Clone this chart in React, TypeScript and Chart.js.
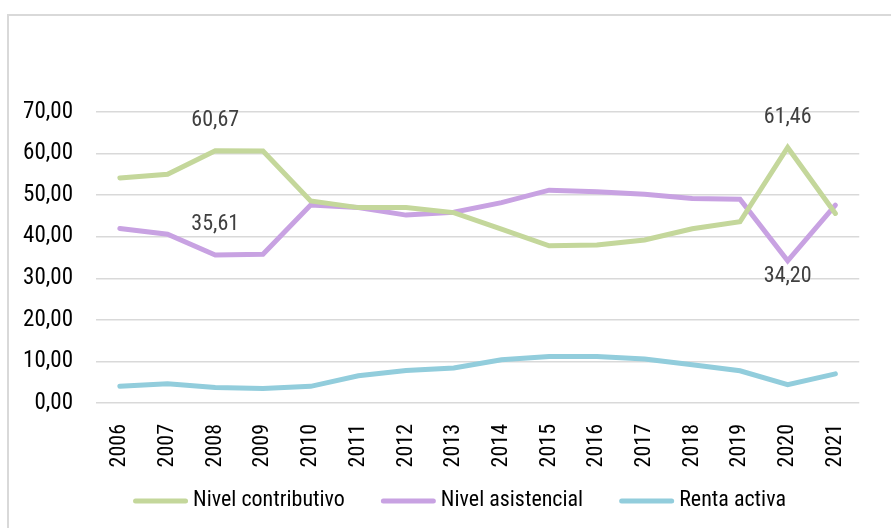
import React, { useEffect, useRef } from "react";
import { Chart, registerables } from "chart.js";

Chart.register(...registerables);

// Years on the horizontal axis
const years = [
  "2006", "2007", "2008", "2009", "2010", "2011", "2012", "2013",
  "2014", "2015", "2016", "2017", "2018", "2019", "2020", "2021",
];

// Series values (percent)
const nivelContributivo = [
  54.15, 55.0, 60.67, 60.6, 48.6, 47.0, 47.0, 45.8,
  41.8, 37.8, 38.0, 39.2, 41.9, 43.6, 61.46, 45.6,
];
const nivelAsistencial = [
  42.0, 40.6, 35.61, 35.8, 47.6, 47.0, 45.2, 45.9,
  48.2, 51.2, 50.8, 50.2, 49.2, 49.0, 34.2, 47.6,
];
const rentaActiva = [
  4.0, 4.6, 3.75, 3.5, 4.0, 6.55, 7.8, 8.4,
  10.4, 11.2, 11.2, 10.6, 9.2, 7.75, 4.4, 7.0,
];

// Points carrying a value label, and where the label sits
const contributivoLabels = [
  { index: 2, place: "above" },
  { index: 14, place: "above" },
];
const asistencialLabels = [
  { index: 2, place: "above" },
  { index: 14, place: "below" },
];

const FONT = "'Liberation Sans Narrow', 'Arial Narrow', 'Roboto Condensed', sans-serif";
const fmt = (v: number) => v.toFixed(2).replace(".", ",");

const valueLabelPlugin = {
  id: "valueLabels",
  afterDatasetsDraw(chart: any) {
    const ctx = chart.ctx;
    ctx.save();
    ctx.font = `22px ${FONT}`;
    ctx.fillStyle = "#404040";
    ctx.textAlign = "center";
    ctx.textBaseline = "middle";
    chart.data.datasets.forEach((ds: any, di: number) => {
      const marks = ds.valueLabels || [];
      const meta = chart.getDatasetMeta(di);
      marks.forEach((m: any) => {
        const el = meta.data[m.index];
        if (!el) return;
        const text = fmt(ds.data[m.index] as number);
        const y = m.place === "above" ? el.y - 30 : el.y + 16;
        ctx.fillText(text, el.x, y);
      });
    });
    ctx.restore();
  },
};

const lineLegendPlugin = {
  id: "lineLegend",
  afterDraw(chart: any) {
    const ctx = chart.ctx;
    ctx.save();
    ctx.font = `22px ${FONT}`;
    ctx.textBaseline = "middle";
    ctx.textAlign = "left";
    const lineW = 55;
    const gap = 5;
    const itemGap = 36;
    const items = chart.data.datasets.map((ds: any) => ({
      label: ds.label as string,
      color: ds.borderColor as string,
      w: lineW + gap + ctx.measureText(ds.label).width,
    }));
    const total = items.reduce((s: number, it: any) => s + it.w, 0) + itemGap * (items.length - 1);
    let x = 451.5 - total / 2;
    const y = 492;
    items.forEach((it: any) => {
      ctx.strokeStyle = it.color;
      ctx.lineWidth = 5;
      ctx.lineCap = "round";
      ctx.beginPath();
      ctx.moveTo(x + 2.5, y + 1);
      ctx.lineTo(x + lineW - 2.5, y + 1);
      ctx.stroke();
      ctx.fillStyle = "#000000";
      ctx.fillText(it.label, x + lineW + gap, y);
      x += it.w + itemGap;
    });
    ctx.restore();
  },
};

export default function App() {
  const canvasRef = useRef<HTMLCanvasElement | null>(null);

  useEffect(() => {
    if (!canvasRef.current) return;
    const lineStyle = {
      borderWidth: 5,
      pointRadius: 0,
      pointHoverRadius: 0,
      tension: 0,
      borderCapStyle: "round" as const,
      borderJoinStyle: "miter" as const,
      fill: false,
    };
    const chart = new Chart(canvasRef.current, {
      type: "line",
      data: {
        labels: years,
        datasets: [
          {
            label: "Nivel contributivo",
            data: nivelContributivo,
            borderColor: "#c4d79b",
            backgroundColor: "#c4d79b",
            valueLabels: contributivoLabels,
            ...lineStyle,
          } as any,
          {
            label: "Nivel asistencial",
            data: nivelAsistencial,
            borderColor: "#c8a2e2",
            backgroundColor: "#c8a2e2",
            valueLabels: asistencialLabels,
            ...lineStyle,
          } as any,
          {
            label: "Renta activa",
            data: rentaActiva,
            borderColor: "#92cddc",
            backgroundColor: "#92cddc",
            ...lineStyle,
          } as any,
        ],
      },
      options: {
        animation: false,
        responsive: false,
        layout: { padding: { top: 104, right: 7, left: 0, bottom: 0 } },
        plugins: {
          legend: { display: false },
          tooltip: { enabled: false },
        },
        scales: {
          x: {
            offset: true,
            grid: { display: false, drawTicks: false },
            border: { display: false },
            ticks: {
              color: "#000000",
              font: { family: FONT, size: 22 },
              minRotation: 90,
              maxRotation: 90,
              padding: 21,
              autoSkip: false,
            },
            afterFit: (scale: any) => {
              scale.height = 117;
            },
          },
          y: {
            min: 0,
            max: 70,
            grid: { color: "#d9d9d9", lineWidth: 1.5, drawTicks: false },
            border: { display: false },
            ticks: {
              stepSize: 10,
              color: "#000000",
              font: { family: FONT, size: 23 },
              padding: 23,
              callback: (v: any) => fmt(Number(v)),
            },
            afterFit: (scale: any) => {
              scale.width = 88;
            },
          },
        },
      },
      plugins: [valueLabelPlugin, lineLegendPlugin],
    });
    return () => chart.destroy();
  }, []);

  return (
    <div>
      <div
        style={{
          position: "fixed",
          left: 7,
          top: 14,
          right: 0,
          bottom: 0,
          borderTop: "2px solid #d9d9d9",
          borderLeft: "2px solid #d9d9d9",
          boxSizing: "border-box",
        }}
      />
      <canvas
        ref={canvasRef}
        width={875}
        height={512}
        style={{ position: "relative", display: "block", width: 875, height: 512 }}
      />
    </div>
  );
}
